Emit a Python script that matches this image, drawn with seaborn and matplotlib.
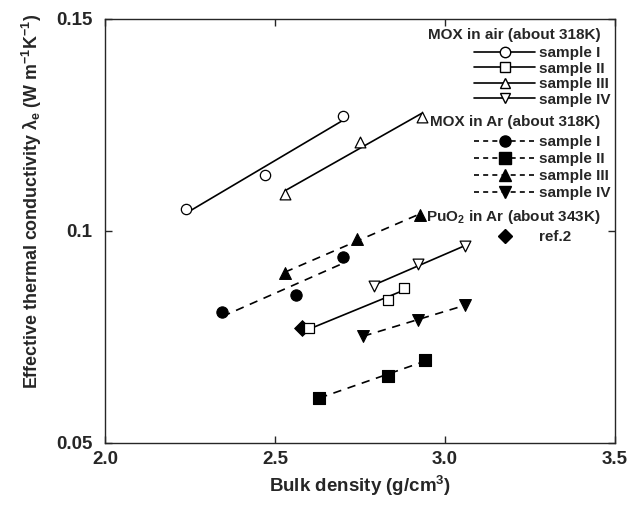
import matplotlib
matplotlib.use("Agg")
import matplotlib.pyplot as plt
import seaborn as sns
from matplotlib.lines import Line2D

# MOX in air (about 318K) - open markers, solid fit lines
air_I_x = [2.238, 2.470, 2.699]
air_I_y = [0.1052, 0.1131, 0.1271]
air_II_x = [2.601, 2.831, 2.880]
air_II_y = [0.0770, 0.0838, 0.0866]
air_III_x = [2.529, 2.750, 2.931]
air_III_y = [0.1088, 0.1210, 0.1269]
air_IV_x = [2.791, 2.921, 3.059]
air_IV_y = [0.0871, 0.0921, 0.0964]

# MOX in Ar (about 318K) - filled markers, dashed fit lines
ar_I_x = [2.345, 2.561, 2.701]
ar_I_y = [0.0808, 0.0850, 0.0939]
ar_II_x = [2.630, 2.831, 2.941]
ar_II_y = [0.0607, 0.0659, 0.0695]
ar_III_x = [2.529, 2.740, 2.926]
ar_III_y = [0.0900, 0.0982, 0.1037]
ar_IV_x = [2.760, 2.921, 3.059]
ar_IV_y = [0.0753, 0.0789, 0.0826]

# PuO2 in Ar (about 343K)
ref2_x = [2.579]
ref2_y = [0.0771]

sample_labels = ["sample I", "sample II", "sample III", "sample IV"]
group_titles = ["MOX in air (about 318K)", "MOX in Ar (about 318K)",
                "PuO$_2$ in Ar (about 343K)"]
x_ticks = [2.0, 2.5, 3.0, 3.5]
x_ticklabels = ["2.0", "2.5", "3.0", "3.5"]
y_ticks = [0.05, 0.1, 0.15]
y_ticklabels = ["0.05", "0.1", "0.15"]

sns.set_style("ticks")
plt.rcParams["font.family"] = ["Liberation Sans", "DejaVu Sans"]
plt.rcParams["font.weight"] = "bold"
plt.rcParams["axes.labelweight"] = "bold"
plt.rcParams["mathtext.fontset"] = "custom"
plt.rcParams["mathtext.rm"] = "Liberation Sans:bold"
plt.rcParams["mathtext.it"] = "Liberation Sans:bold"
plt.rcParams["mathtext.bf"] = "Liberation Sans:bold"
plt.rcParams["mathtext.default"] = "rm"

fig = plt.figure(figsize=(6.43, 5.13), dpi=100)
ax = fig.add_axes([0.1633, 0.1365, 0.7932, 0.8265])

lw = 1.2
markers = ["o", "s", "^", "v"]
msizes = [55, 60, 60, 60]

air = [(air_I_x, air_I_y), (air_II_x, air_II_y), (air_III_x, air_III_y), (air_IV_x, air_IV_y)]
ar = [(ar_I_x, ar_I_y), (ar_II_x, ar_II_y), (ar_III_x, ar_III_y), (ar_IV_x, ar_IV_y)]

for (xs, ys), m, s in zip(ar, markers, msizes):
    sns.regplot(x=xs, y=ys, ci=None, scatter=False, ax=ax,
                line_kws=dict(color="black", lw=lw, ls=(0, (5, 4)), zorder=2))
    sns.scatterplot(x=xs, y=ys, marker=m, s=s * 1.2, color="black",
                    edgecolor="black", linewidth=0.8, ax=ax, zorder=3)

sns.scatterplot(x=ref2_x, y=ref2_y, marker="D", s=65, color="black",
                edgecolor="black", ax=ax, zorder=3)

for (xs, ys), m, s in zip(air, markers, msizes):
    sns.regplot(x=xs, y=ys, ci=None, scatter=False, ax=ax,
                line_kws=dict(color="black", lw=lw, zorder=2))
    sns.scatterplot(x=xs, y=ys, marker=m, s=s, facecolor="white",
                    edgecolor="black", linewidth=0.9, ax=ax, zorder=4)

ax.set_xlim(2.0, 3.5)
ax.set_ylim(0.05, 0.15)
ax.set_xticks(x_ticks)
ax.set_xticklabels(x_ticklabels)
ax.set_yticks(y_ticks)
ax.set_yticklabels(y_ticklabels)
ax.tick_params(direction="in", top=True, right=True, length=5, width=1,
               labelsize=13.5)
ax.tick_params(axis="x", pad=6)
ax.tick_params(axis="y", pad=9)
for sp in ax.spines.values():
    sp.set_visible(True)
    sp.set_linewidth(1.0)

ax.set_xlabel("Bulk density (g/cm$^3$)", fontsize=13.5, labelpad=4)
ax.set_ylabel("Effective thermal conductivity λ$_e$ (W m$^{-1}$K$^{-1}$)",
              fontsize=12.9)
ax.yaxis.set_label_coords(-0.12, 0.571)

# legends
fs = 11
air_handles = [Line2D([], [], color="black", lw=lw, marker=m, markersize=7.5,
                      markerfacecolor="white", markeredgecolor="black")
               for m in markers]
ar_handles = [Line2D([], [], color="black", lw=lw, ls=(0, (3, 2.5)), marker=m,
                     markersize=8, markerfacecolor="black", markeredgecolor="black")
              for m in markers]
ref_handles = [Line2D([], [], color="black", ls="none", marker="D", markersize=7.5)]

common = dict(loc="upper left", frameon=False, fontsize=fs, handlelength=4.0,
              handletextpad=0.25, borderpad=0, borderaxespad=0)
leg1 = ax.legend(air_handles, sample_labels, bbox_to_anchor=(0.7235, 0.936),
                 labelspacing=0.1, **common)
ax.add_artist(leg1)
leg2 = ax.legend(ar_handles, sample_labels, bbox_to_anchor=(0.7235, 0.726),
                 labelspacing=0.2, **common)
ax.add_artist(leg2)
ax.legend(ref_handles, ["ref.2"], bbox_to_anchor=(0.7235, 0.502), **common)

for title, ty in zip(group_titles, [0.962, 0.757, 0.533]):
    ax.text(0.971, ty, title, transform=ax.transAxes, ha="right", va="center",
            fontsize=fs, fontweight="bold")

fig.savefig("out.png", dpi=100)
